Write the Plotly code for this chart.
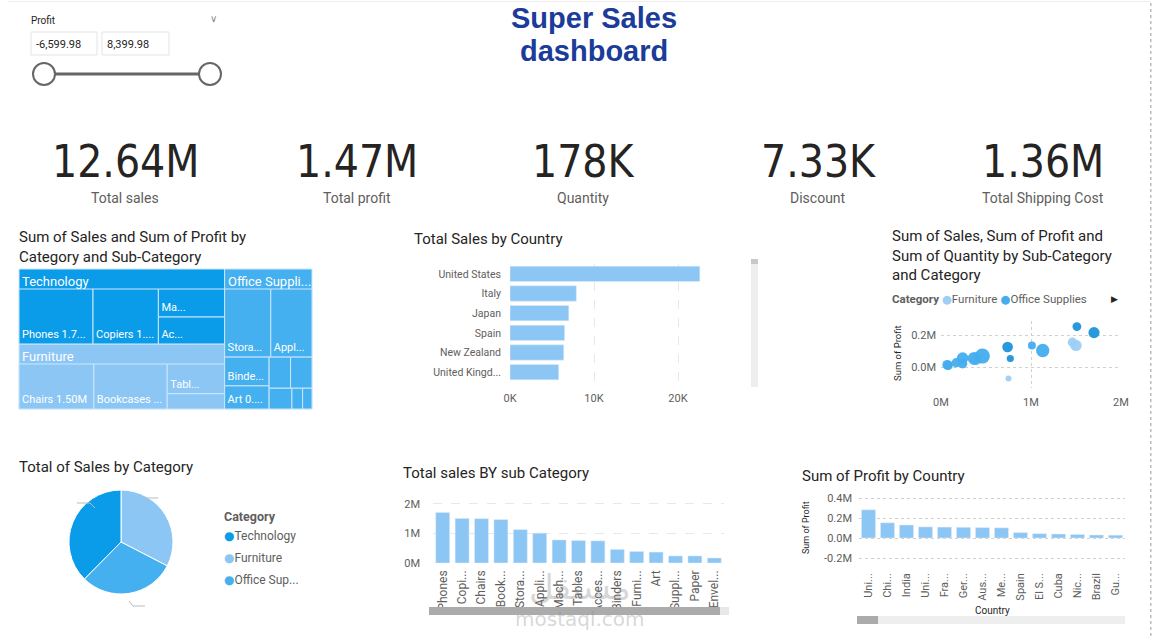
import plotly.graph_objects as go

W, H = 1160, 643
# observed mapping of paper space onto the photographed page
X0, XW, YH = 8.0, 1144.0, 635.0
def px(x): return (x - X0) / XW
def py(y): return 1 - y / YH

# ---------------- data ----------------
kpi_values = ["12.64M", "1.47M", "178K", "7.33K", "1.36M"]
kpi_labels = ["Total sales", "Total profit", "Quantity", "Discount", "Total Shipping Cost"]

categories = ["Technology", "Furniture", "Office Supplies"]
cat_short = ["Technology", "Furniture", "Office Suppli..."]
cat_colors = {"Technology": "#0A9BE9", "Furniture": "#8CC6F5", "Office Supplies": "#45B0F0"}

tm_sub = ["Phones", "Copiers", "Machines", "Accessories",
          "Chairs", "Bookcases", "Tables", "Furnishings",
          "Storage", "Appliances", "Binders", "Art", "Paper", "Supplies", "Envelopes", "Fasteners", "Labels"]
tm_cat = ["Technology"] * 4 + ["Furniture"] * 4 + ["Office Supplies"] * 9
tm_sales = [1.71e6, 1.51e6, 0.78e6, 0.75e6,
            1.50e6, 1.47e6, 0.76e6, 0.39e6,
            1.13e6, 1.01e6, 0.46e6, 0.37e6, 0.24e6, 0.24e6, 0.17e6, 0.08e6, 0.07e6]
tm_text = ["Phones 1.7...", "Copiers 1....", "Ma...", "Ac...",
           "Chairs 1.50M", "Bookcases ...", "Tabl...", "",
           "Stora...", "Appl...", "Binde...", "Art 0....", "", "", "", "", ""]

country_names = ["United States", "Italy", "Japan", "Spain", "New Zealand", "United Kingd..."]
country_sales = [22600, 7900, 7000, 6500, 6400, 5800]

sc_profit = [0.217e6, 0.255e6, 0.055e6, 0.127e6,
             0.137e6, 0.157e6, -0.070e6, 0.047e6,
             0.105e6, 0.137e6, 0.070e6, 0.055e6, 0.057e6, 0.022e6, 0.028e6, 0.012e6, 0.015e6]
sc_sales = [1.70e6, 1.51e6, 0.77e6, 0.74e6,
            1.50e6, 1.46e6, 0.75e6, 0.39e6,
            1.13e6, 1.01e6, 0.46e6, 0.37e6, 0.24e6, 0.24e6, 0.17e6, 0.08e6, 0.07e6]
sc_qty = [11870, 7454, 4906, 10946,
          12336, 8310, 3083, 11225,
          16917, 6078, 21429, 16301, 12822, 8543, 8380, 8390, 9322]
sc_colors = {"Technology": "#1E93DA", "Furniture": "#9DCFF5", "Office Supplies": "#45ADEE"}

pie_labels = ["Furniture", "Office Supplies", "Technology"]
pie_values = [4.12e6, 3.77e6, 4.75e6]

sub_names = ["Phones", "Copiers", "Chairs", "Bookcases", "Storage", "Appliances", "Machines", "Tables",
             "Accessories", "Binders", "Furnishings", "Art", "Supplies", "Paper", "Envelopes"]
sub_ticks = ["Phones", "Copi...", "Chairs", "Book...", "Stora...", "Appli...", "Mach...", "Tables",
             "Acces...", "Binders", "Furni...", "Art", "Suppl...", "Paper", "Envel..."]
sub_sales = [1.71e6, 1.51e6, 1.50e6, 1.47e6, 1.13e6, 1.01e6, 0.78e6, 0.76e6,
             0.75e6, 0.46e6, 0.39e6, 0.37e6, 0.24e6, 0.24e6, 0.17e6]

pc_names = ["United States", "China", "India", "United Kingdom", "France", "Germany", "Australia",
            "Mexico", "Spain", "El Salvador", "Cuba", "Nicaragua", "Brazil", "Guatemala"]
pc_ticks = ["Uni...", "Chi...", "India", "Uni...", "Fra...", "Ger...", "Aus...", "Me...", "Spain",
            "El S...", "Cuba", "Nic...", "Brazil", "Gu..."]
pc_profit = [0.282e6, 0.152e6, 0.130e6, 0.111e6, 0.109e6, 0.107e6, 0.104e6, 0.102e6,
             0.054e6, 0.043e6, 0.040e6, 0.035e6, 0.030e6, 0.028e6]

# ---------------- styling ----------------
FONT = "Roboto, 'DejaVu Sans', sans-serif"
GRAY = "#605E5C"
DARK = "#252423"
BAR = "#8CC6F5"
HDR = 20  # treemap header band

fig = go.Figure()

# Treemap
tm_ids = categories + [f"{c}/{s}" for c, s in zip(tm_cat, tm_sub)]
tm_labels = categories + tm_sub
tm_parents = ["", "", ""] + tm_cat
tm_vals = [sum(v for v, c in zip(tm_sales, tm_cat) if c == cat) for cat in categories] + tm_sales
tm_txt = categories + tm_text
tm_cols = [cat_colors[c] for c in categories] + [cat_colors[c] for c in tm_cat]
fig.add_trace(go.Treemap(
    ids=tm_ids, labels=tm_labels, parents=tm_parents, values=tm_vals,
    branchvalues="total", text=tm_txt, texttemplate="%{text}",
    textposition="bottom left",
    marker=dict(colors=tm_cols, line=dict(color="#CDE7FA", width=1), pad=dict(t=HDR, l=0, r=0, b=0)),
    textfont=dict(family=FONT, size=11, color="white"),
    tiling=dict(packing="squarify", pad=0, squarifyratio=2),
    pathbar=dict(visible=False), hoverinfo="skip",
    domain=dict(x=[px(19), px(312)], y=[py(408), py(268 - HDR)]),
))

# Horizontal bar: Total Sales by Country
fig.add_trace(go.Bar(
    x=country_sales, y=country_names, orientation="h", marker_color=BAR,
    xaxis="x", yaxis="y", hoverinfo="skip", width=0.78,
))

# Scatter bubble
for cat in categories:
    idx = [i for i, c in enumerate(tm_cat) if c == cat]
    fig.add_trace(go.Scatter(
        x=[sc_sales[i] for i in idx], y=[sc_profit[i] for i in idx], mode="markers",
        marker=dict(size=[sc_qty[i] for i in idx], sizemode="area",
                    sizeref=2 * max(sc_qty) / (15 ** 2), sizemin=3,
                    color=sc_colors[cat], opacity=0.95, line=dict(width=0)),
        xaxis="x2", yaxis="y2", hoverinfo="skip", showlegend=False,
    ))

# Pie
fig.add_trace(go.Pie(
    labels=pie_labels, values=pie_values, sort=False, direction="clockwise", rotation=0,
    marker=dict(colors=[cat_colors[l] for l in pie_labels], line=dict(color="white", width=1)),
    textinfo="none", hoverinfo="skip", showlegend=False,
    domain=dict(x=[px(69), px(173)], y=[py(593), py(489)]),
))

# Sub-category bars
fig.add_trace(go.Bar(
    x=sub_names, y=sub_sales, marker_color=BAR, xaxis="x3", yaxis="y3",
    hoverinfo="skip", width=0.72,
))

# Profit by country
fig.add_trace(go.Bar(
    x=pc_names, y=pc_profit, marker_color=BAR, xaxis="x4", yaxis="y4",
    hoverinfo="skip", width=0.74,
))

tickf = dict(family=FONT, size=11, color=GRAY)
fig.update_layout(
    width=W, height=H, margin=dict(l=0, r=0, t=0, b=0),
    paper_bgcolor="white", plot_bgcolor="white", showlegend=False,
    font=dict(family=FONT, color=GRAY),
    xaxis=dict(domain=[px(510), px(720)], range=[0, 25000], tickvals=[0, 10000, 20000],
               ticktext=["0K", "10K", "20K"], showgrid=True, gridcolor="#E8E8E8", griddash="dash",
               zeroline=False, showline=False, tickfont=tickf, anchor="y", ticks="", ticklabelstandoff=8),
    yaxis=dict(domain=[py(381), py(263)], autorange="reversed", showgrid=False, zeroline=False,
               tickfont=dict(family=FONT, size=10.5, color=GRAY), ticks="", anchor="x", ticklabelstandoff=8),
    xaxis2=dict(domain=[px(941), px(1121)], range=[0, 2e6], tickvals=[0, 1e6, 2e6],
                ticktext=["0M", "1M", "2M"], showgrid=True, gridcolor="#D0D0D0", griddash="dot",
                zeroline=False, tickfont=tickf, anchor="y2", ticks="", ticklabelstandoff=6),
    yaxis2=dict(domain=[py(387), py(320)], range=[-0.13e6, 0.29e6], tickvals=[0, 0.2e6],
                ticktext=["0.0M", "0.2M"], showgrid=True, gridcolor="#D0D0D0", griddash="dot",
                zeroline=False, tickfont=tickf, anchor="x2", ticks="", ticklabelstandoff=4),
    xaxis3=dict(domain=[px(433), px(724)], tickvals=sub_names, ticktext=sub_ticks, tickangle=-90,
                showgrid=False, zeroline=False, tickfont=dict(family=FONT, size=12, color=GRAY),
                anchor="y3", ticks="", ticklabelstandoff=4),
    yaxis3=dict(domain=[py(562), py(497)], range=[0, 2.2e6], tickvals=[0, 1e6, 2e6],
                ticktext=["0M", "1M", "2M"], showgrid=True, gridcolor="#E8E8E8", griddash="dash",
                zeroline=False, tickfont=tickf, anchor="x3", ticks="", ticklabelstandoff=12),
    xaxis4=dict(domain=[px(859), px(1125)], tickvals=pc_names, ticktext=pc_ticks, tickangle=-90,
                showgrid=False, zeroline=False, tickfont=dict(family=FONT, size=11, color=GRAY),
                anchor="y4", ticks="", ticklabelstandoff=4),
    yaxis4=dict(domain=[py(565), py(492)], range=[-0.28e6, 0.45e6], tickvals=[-0.2e6, 0, 0.2e6, 0.4e6],
                ticktext=["-0.2M", "0.0M", "0.2M", "0.4M"], showgrid=True, gridcolor="#D0D0D0",
                griddash="dot", zeroline=False, tickfont=tickf, anchor="x4", ticks="", ticklabelstandoff=6),
    uniformtext=dict(minsize=9, mode="show"),
)

ann = []
def text(x, y, s, size=12, color=DARK, xanchor="left", family=FONT, angle=0, yanchor="middle", align="left"):
    ann.append(dict(x=px(x), y=py(y), xref="paper", yref="paper", text=s, showarrow=False,
                    xanchor=xanchor, yanchor=yanchor, align=align,
                    font=dict(size=size, color=color, family=family), textangle=angle))

# Title
TF = "'Liberation Sans', Arial, sans-serif"
text(594, 17, "<b>Super Sales</b>", 29, "#1B3C98", "center", TF, align="center")
text(594, 50, "<b>dashboard</b>", 29, "#1B3C98", "center", TF, align="center")

# Slicer
text(29, 19, "Profit", 10, DARK)
text(213, 17, "\u2228", 10, "#888888", "center")
text(34, 43, "-6,599.98", 11, DARK)
text(105, 43, "8,399.98", 11, DARK)

# KPIs
kx = [125, 357, 583, 818, 1043]
for x, v, l in zip(kx, kpi_values, kpi_labels):
    text(x, 160, v, 44, DARK, "center", "'DejaVu Sans Condensed', 'DejaVu Sans', sans-serif", align="center")
    text(x, 197, l, 14, GRAY, "center", align="center")

# Visual titles
text(17, 246, "Sum of Sales and Sum of Profit by<br>Category and Sub-Category", 15, DARK)
text(412, 238, "Total Sales by Country", 15, DARK)
text(890, 255, "Sum of Sales, Sum of Profit and<br>Sum of Quantity by Sub-Category<br>and Category", 15, DARK)
text(17, 466, "Total of Sales by Category", 15, DARK)
text(401, 472, "Total sales BY sub Category", 15, DARK)
text(800, 475, "Sum of Profit by Country", 15, DARK)

# Treemap category header labels
for (hx, hy), lab in zip([(20, 280), (20, 355), (226, 280)], cat_short):
    text(hx, hy, lab, 13, "white")

# Scatter legend
text(890, 298, "<b>Category</b> <span style='color:#9DCFF5'>\u25CF</span>Furniture "
               "<span style='color:#45ADEE'>\u25CF</span>Office Supplies", 11.5, GRAY)
text(1114, 298, "\u25B6", 9, DARK, "center")
text(897, 352, "Sum of Profit", 9.5, DARK, "center", angle=-90)

# Pie legend
text(222, 515, "<b>Category</b>", 12.5, GRAY)
for yy, lab, col in [(535, "Technology", cat_colors["Technology"]),
                     (557, "Furniture", cat_colors["Furniture"]),
                     (579, "Office Sup...", cat_colors["Office Supplies"])]:
    text(222, yy, f"<span style='color:{col}'>\u25CF</span>{lab}", 12, GRAY)

# Profit by country axis titles
text(806, 527, "Sum of Profit", 9, DARK, "center", angle=-90)
text(992, 609, "Country", 10, DARK, "center", align="center")

# Watermark
text(580, 586, "\u0645\u0633\u062a\u0642\u0644", 34, "rgba(140,140,140,0.35)", "center",
     "'DejaVu Sans', sans-serif", align="center")
text(580, 618, "mostaql.com", 20, "rgba(140,140,140,0.35)", "center", "'DejaVu Sans', sans-serif",
     align="center")

fig.update_layout(annotations=ann)

shapes = []
def rect(x0, y0, x1, y1, fill="rgba(0,0,0,0)", line="rgba(0,0,0,0)", lw=1):
    shapes.append(dict(type="rect", xref="paper", yref="paper", x0=px(x0), x1=px(x1), y0=py(y1), y1=py(y0),
                       fillcolor=fill, line=dict(color=line, width=lw), layer="above"))
def line(x0, y0, x1, y1, color, w=1, dash="solid"):
    shapes.append(dict(type="line", xref="paper", yref="paper", x0=px(x0), x1=px(x1), y0=py(y0), y1=py(y1),
                       line=dict(color=color, width=w, dash=dash)))

# top border & right dashed border
line(8, 0.5, 1150, 0.5, "#EDEDED", 1)
shapes.append(dict(type="line", xref="paper", yref="paper", x0=0.999, x1=0.999, y0=0, y1=1,
                   line=dict(color="#9A9A9A", width=1, dash="dot")))

# slicer boxes and slider
rect(31, 31, 97, 54, line="#E3E3E3")
rect(102, 31, 169, 54, line="#E3E3E3")
line(44, 73, 210, 73, "#666666", 3)
for cx in (44, 210):
    shapes.append(dict(type="circle", xref="paper", yref="paper", x0=px(cx - 11), x1=px(cx + 11),
                       y0=py(84), y1=py(62), fillcolor="white", line=dict(color="#666666", width=2)))

# scrollbars
rect(751, 258, 758, 386, fill="#EEEEEE")
rect(751, 258, 758, 263, fill="#C8C8C8")
rect(429, 606, 729, 614, fill="#E8E8E8")
rect(429, 606, 720, 614, fill="#ABABAB")
rect(857, 615, 1125, 623, fill="#EEEEEE")
rect(857, 615, 878, 623, fill="#ABABAB")

# pie leader ticks
line(77, 502, 90, 502, "#BBBBBB")
line(90, 502, 95, 507, "#BBBBBB")
line(146, 497, 158, 497, "#BBBBBB")
line(146, 497, 143, 502, "#BBBBBB")
line(133, 605, 145, 605, "#BBBBBB")
line(133, 605, 129, 600, "#BBBBBB")

fig.update_layout(shapes=shapes)

fig.write_html("out.html")
